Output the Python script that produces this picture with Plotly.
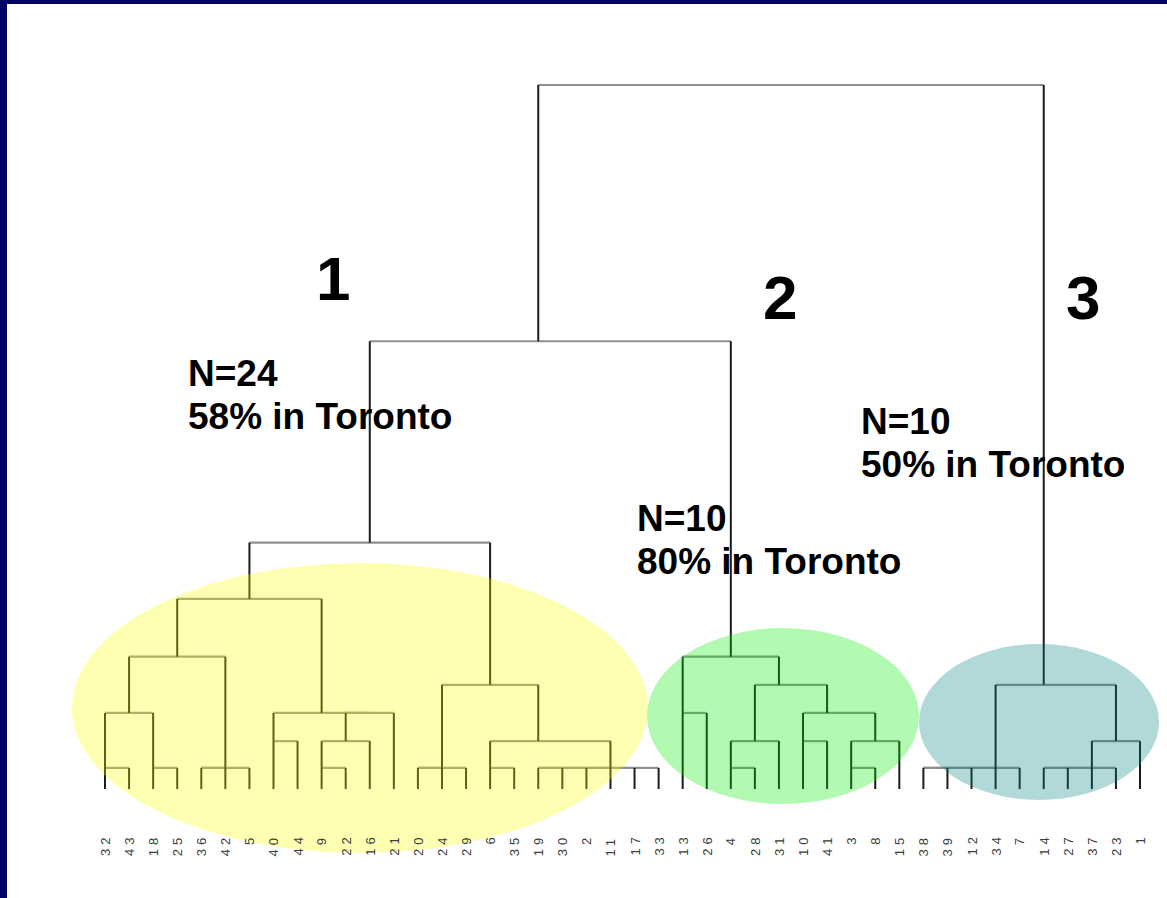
import plotly.graph_objects as go

# ---------------------------------------------------------------------------
# Data
# ---------------------------------------------------------------------------
# Observation numbers in the order they appear along the bottom of the tree
leaf_order = [32, 43, 18, 25, 36, 42, 5, 40, 44, 9, 22, 16, 21, 20, 24, 29, 6, 35,
              19, 30, 2, 11, 17, 33,
              13, 26, 4, 28, 31, 10, 41, 3, 8, 15,
              38, 39, 12, 34, 7, 14, 27, 37, 23, 1]

# Agglomeration schedule (hclust style): negative = observation number,
# positive = result of an earlier step (1-based). Heights are rescaled
# distances (0-25).
merge_left = [-32, -18, -36, 3, -9, -20, 6, -6, -19, 9, 10, -17, 11,
              -4, -3,
              -38, 16, 17, 18, -14, 20, 21,
              -40, 5, 8, 14, -10, 15, 22,
              1, 24, 23, -13, 27,
              7, 26, 19,
              30, 33,
              38,
              40,
              41, 42]
merge_right = [-43, -25, -42, -5, -22, -24, -29, -35, -30, -2, -11, -33, 12,
               -28, -8,
               -39, -12, -34, -7, -27, -37, -23,
               -44, -16, 13, -31, -41, -15, -1,
               2, -21, 31, -26, 28,
               25, 34, 29,
               4, 36,
               32,
               35,
               39, 37]
merge_height = [0.75] * 13 + [0.75] * 2 + [0.75] * 7 \
    + [1.7] * 7 + [2.7] * 5 + [3.7] * 3 + [4.7] * 2 \
    + [6.75, 8.75, 15.9, 25.0]

# Cluster summaries
cluster_names = ["1", "2", "3"]
cluster_sizes = [24, 10, 10]
cluster_toronto_pct = [58, 80, 50]

# ---------------------------------------------------------------------------
# Geometry of the canvas
# ---------------------------------------------------------------------------
W, H = 1167, 898
LEAF_X0, LEAF_DX = 105.0, 24.07      # pixel of first leaf, leaf spacing
BASE_Y, UNIT_Y = 789.0, 28.16        # pixel of distance 0, pixels per unit

x_range = [(0 - LEAF_X0) / LEAF_DX, (W - LEAF_X0) / LEAF_DX]
y_range = [(BASE_Y - H) / UNIT_Y, BASE_Y / UNIT_Y]


def px(xp):
    return xp / W


def py(yp):
    return 1 - yp / H


# ---------------------------------------------------------------------------
# Build the dendrogram segments (a junction sits on the column halfway
# between its two children, rounded down as in a text-grid dendrogram)
# ---------------------------------------------------------------------------
col_of_leaf = {obs: i for i, obs in enumerate(leaf_order)}
node_col, node_h = [], []


def child(ref):
    if ref < 0:
        return col_of_leaf[-ref], 0.0
    return node_col[ref - 1], node_h[ref - 1]


hx, hy, vx, vy = [], [], [], []
for a, b, h in zip(merge_left, merge_right, merge_height):
    ca, ha = child(a)
    cb, hb = child(b)
    hx += [ca, cb, None]
    hy += [h, h, None]
    vx += [ca, ca, None, cb, cb, None]
    vy += [ha, h, None, hb, h, None]
    node_col.append((ca + cb) // 2)
    node_h.append(h)

fig = go.Figure()
fig.add_trace(go.Scatter(x=hx, y=hy, mode="lines",
                         line=dict(color="#8f8f8f", width=2.2),
                         hoverinfo="skip", showlegend=False))
fig.add_trace(go.Scatter(x=vx, y=vy, mode="lines",
                         line=dict(color="#1c1c1c", width=2),
                         hoverinfo="skip", showlegend=False))

# ---------------------------------------------------------------------------
# Leaf labels (rotated, under each leaf)
# ---------------------------------------------------------------------------
annotations = []
label_top = (BASE_Y - 832) / UNIT_Y
for i, obs in enumerate(leaf_order):
    annotations.append(dict(
        x=i, y=label_top, xref="x", yref="y",
        text='<span style="letter-spacing:4px">%d</span>' % obs,
        textangle=-90, xanchor="center", yanchor="top", showarrow=False,
        font=dict(family="Liberation Sans, Arial", size=13, color="#3c3c3c")))

# ---------------------------------------------------------------------------
# Cluster numbers and summaries
# ---------------------------------------------------------------------------
big_pos = [(333, 278), (780, 297), (1083, 297)]
for name, (xp, yp) in zip(cluster_names, big_pos):
    annotations.append(dict(
        x=px(xp), y=py(yp), xref="paper", yref="paper", text=name,
        xanchor="center", yanchor="middle", showarrow=False,
        font=dict(family="Liberation Sans, Arial", size=62, color="black",
                  weight="bold")))

info_pos = [(186, 374), (635, 518), (859, 421)]
for n, pct, (xp, yp) in zip(cluster_sizes, cluster_toronto_pct, info_pos):
    for k, line in enumerate(["N=%d" % n, "%d%% in Toronto" % pct]):
        annotations.append(dict(
            x=px(xp), y=py(yp + 43 * k), xref="paper", yref="paper",
            text=line, xanchor="left", yanchor="middle", showarrow=False,
            font=dict(family="Liberation Sans, Arial", size=37, color="black",
                      weight="bold")))

# ---------------------------------------------------------------------------
# Shaded ellipses around the three clusters, and the slide frame
# ---------------------------------------------------------------------------
ellipses = [((360, 708, 288, 145), "#ffff00"),
            ((783, 716, 136, 88), "#00ee00"),
            ((1039, 722, 120, 78), "#008080")]
shapes = []
for (cx, cy, rx, ry), color in ellipses:
    shapes.append(dict(type="circle", xref="paper", yref="paper",
                       x0=px(cx - rx), x1=px(cx + rx),
                       y0=py(cy + ry), y1=py(cy - ry),
                       fillcolor=color, opacity=0.3, line=dict(width=0),
                       layer="above"))

navy = "#000066"
shapes.append(dict(type="rect", xref="paper", yref="paper",
                   x0=0, x1=px(7), y0=0, y1=1,
                   fillcolor=navy, line=dict(width=0), layer="above"))
shapes.append(dict(type="rect", xref="paper", yref="paper",
                   x0=0, x1=1, y0=py(4), y1=1,
                   fillcolor=navy, line=dict(width=0), layer="above"))

fig.update_layout(
    width=W, height=H,
    margin=dict(l=0, r=0, t=0, b=0),
    paper_bgcolor="white", plot_bgcolor="white",
    xaxis=dict(range=x_range, visible=False, fixedrange=True),
    yaxis=dict(range=y_range, visible=False, fixedrange=True),
    annotations=annotations,
    shapes=shapes,
    showlegend=False,
)

fig.write_html("out.html")
